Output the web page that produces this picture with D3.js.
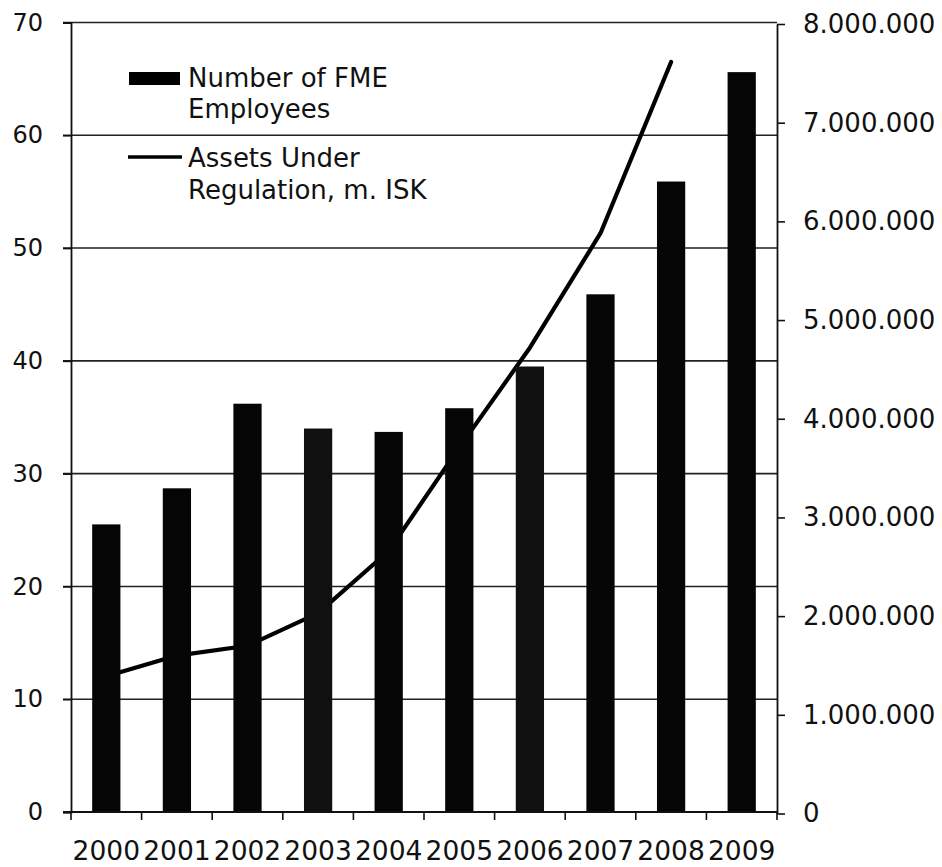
<!DOCTYPE html>
<html><head><meta charset="utf-8">
<script src="https://cdn.jsdelivr.net/npm/d3@7"></script>
<style>body{margin:0;background:#fff}svg{display:block}text{font-family:Verdana,"DejaVu Sans",sans-serif;fill:#111}</style>
</head><body><svg id="c" width="942" height="867"></svg>
<script>
const years = ["2000","2001","2002","2003","2004","2005","2006","2007","2008","2009"];
const employees = [25.5, 28.7, 36.2, 34.0, 33.7, 35.8, 39.5, 45.9, 55.9, 65.6];
const assetYears = ["2000","2001","2002","2003","2004","2005","2006","2007","2008"];
const assets = [1390000, 1600000, 1700000, 2030000, 2660000, 3710000, 4720000, 5880000, 7615000];
const leftTicks = [0,10,20,30,40,50,60,70];
const rightTicks = [0,1000000,2000000,3000000,4000000,5000000,6000000,7000000,8000000];
const legendLabels = [["Number of FME","Employees"],["Assets Under","Regulation, m. ISK"]];

const svg = d3.select("#c");
const L = 71, R = 777, T = 22.5, B = 812;
const x = d3.scaleBand().domain(years).range([L, R]).paddingInner(0.6).paddingOuter(0.3);
const xb = d3.scaleBand().domain(years).range([L, R]);
const y = d3.scaleLinear().domain([0,70]).range([B, T]);
const yR = d3.scaleLinear().domain([0,8000000]).range([813.5, 24]);
const fmt = d3.formatLocale({decimal:",",thousands:".",grouping:[3],currency:["",""]}).format(",");

// gridlines
svg.append("g").selectAll("line").data(leftTicks.filter(d=>d>0)).join("line")
  .attr("x1", L-8).attr("x2", R).attr("y1", d=>y(d)).attr("y2", d=>y(d))
  .attr("stroke", "#222").attr("stroke-width", 1.6);

// line (behind bars)
const line = d3.line().x((d,i)=>xb(assetYears[i])+xb.bandwidth()/2).y(d=>yR(d));
svg.append("path").attr("d", line(assets)).attr("fill","none").attr("stroke","#000").attr("stroke-width",4.2).attr("stroke-linejoin","round").attr("stroke-linecap","round");

// bars
svg.append("g").selectAll("rect").data(employees).join("rect")
  .attr("x", (d,i)=>x(years[i])).attr("width", x.bandwidth())
  .attr("y", d=>y(d)).attr("height", d=>B-y(d))
  .attr("fill", (d,i)=> (i===3||i===6) ? "#101010" : "#050505");

// left axis
const gl = svg.append("g").attr("transform",`translate(${L},0)`)
  .call(d3.axisLeft(y).tickValues(leftTicks).tickSize(8).tickPadding(20));
gl.select(".domain").attr("stroke","#111").attr("stroke-width",1.8);
gl.selectAll(".tick line").attr("stroke","#111").attr("stroke-width",1.6);
gl.selectAll("text").style("font-size","24px").attr("fill","#111");

// right axis
const gr = svg.append("g").attr("transform",`translate(${R},0)`)
  .call(d3.axisRight(yR).tickValues(rightTicks).tickFormat(fmt).tickSize(8).tickPadding(18).tickSizeOuter(0));
gr.select(".domain").attr("stroke","#111").attr("stroke-width",1.8);
gr.selectAll(".tick line").attr("stroke","#111").attr("stroke-width",1.6);
gr.selectAll("text").style("font-size","26px").attr("fill","#111");

// bottom axis
svg.append("line").attr("x1",L-8).attr("x2",R).attr("y1",B).attr("y2",B).attr("stroke","#111").attr("stroke-width",1.8);
const bounds = years.map(d=>xb(d)).concat([R]);
svg.append("g").selectAll("line").data(bounds).join("line")
  .attr("x1",d=>d).attr("x2",d=>d).attr("y1",B).attr("y2",B+8).attr("stroke","#111").attr("stroke-width",1.6);
svg.append("g").selectAll("text").data(years).join("text")
  .attr("x", d=>xb(d)+xb.bandwidth()/2).attr("y", 860).attr("text-anchor","middle")
  .style("font-size","26.5px").text(d=>d);

// legend
const lg = svg.append("g");
lg.append("rect").attr("x",129).attr("y",72).attr("width",51).attr("height",13).attr("fill","#000");
lg.append("line").attr("x1",128).attr("x2",182).attr("y1",157).attr("y2",157).attr("stroke","#000").attr("stroke-width",3.5);
const ly = [[87,118],[167,199]];
legendLabels.forEach((lines,k)=>{
  lines.forEach((t,j)=>{
    lg.append("text").attr("x",188).attr("y",ly[k][j]).style("font-size","26px").text(t);
  });
});
</script></body></html>
